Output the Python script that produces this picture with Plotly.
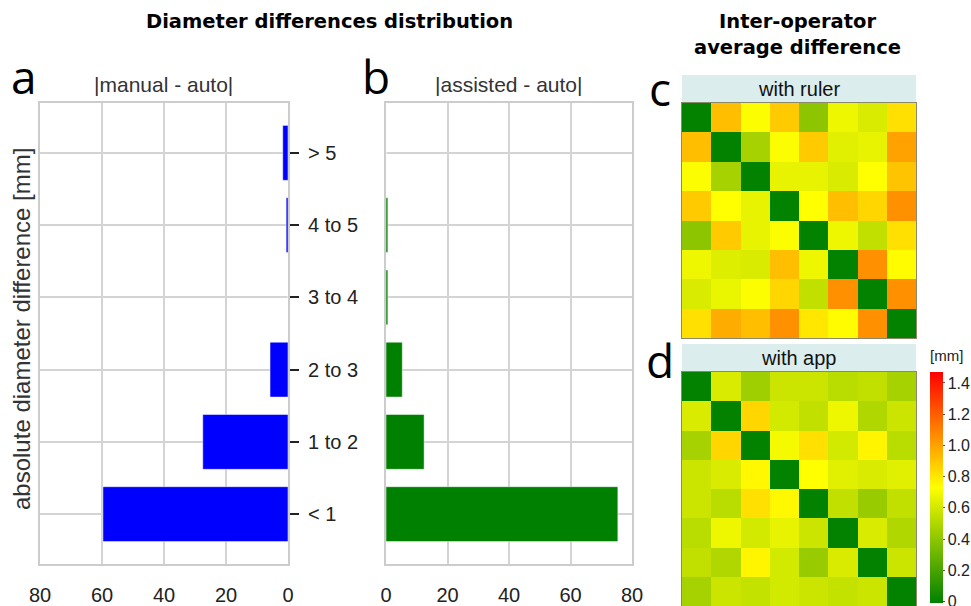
import plotly.graph_objects as go

W, H = 971, 606
OFF = 0  # body margin removed via post_script

categories = ["< 1", "1 to 2", "2 to 3", "3 to 4", "4 to 5", "> 5"]
manual_auto = [59.7, 27.5, 5.8, 0.0, 0.6, 1.7]
assisted_auto = [75.4, 12.4, 5.3, 0.6, 0.6, 0.0]
x_ticks = [0, 20, 40, 60, 80]

operators = list(range(1, 9))
with_ruler = [
    [0.00, 0.92, 0.72, 0.88, 0.40, 0.68, 0.62, 0.82],
    [0.92, 0.00, 0.47, 0.72, 0.88, 0.64, 0.66, 1.00],
    [0.72, 0.47, 0.00, 0.66, 0.66, 0.62, 0.73, 0.90],
    [0.88, 0.73, 0.66, 0.00, 0.73, 0.92, 0.85, 1.05],
    [0.40, 0.88, 0.66, 0.72, 0.00, 0.68, 0.55, 0.82],
    [0.68, 0.63, 0.62, 0.92, 0.68, 0.00, 1.05, 0.74],
    [0.62, 0.67, 0.72, 0.85, 0.55, 1.05, 0.00, 1.05],
    [0.82, 0.97, 0.92, 1.05, 0.80, 0.74, 1.05, 0.00],
]
with_app = [
    [0.00, 0.62, 0.45, 0.58, 0.58, 0.53, 0.55, 0.47],
    [0.62, 0.00, 0.85, 0.60, 0.55, 0.68, 0.50, 0.58],
    [0.47, 0.85, 0.00, 0.70, 0.82, 0.60, 0.76, 0.53],
    [0.58, 0.62, 0.75, 0.00, 0.73, 0.64, 0.62, 0.64],
    [0.58, 0.53, 0.82, 0.75, 0.00, 0.55, 0.43, 0.55],
    [0.53, 0.68, 0.60, 0.66, 0.58, 0.00, 0.62, 0.50],
    [0.55, 0.50, 0.76, 0.60, 0.43, 0.62, 0.00, 0.58],
    [0.47, 0.58, 0.56, 0.60, 0.58, 0.56, 0.58, 0.00],
]
cb_ticks = [0, 0.2, 0.4, 0.6, 0.8, 1.0, 1.2, 1.4]
cb_labels = ["0", "0.2", "0.4", "0.6", "0.8", "1.0", "1.2", "1.4"]


def px(x):
    return (x - OFF) / W


def py(y):
    return min(1.0, max(0.0, 1 - (y - OFF) / H))


colorscale = [[0, "#008000"], [0.5, "#ffff00"], [1, "#ff0000"]]
ZMIN, ZMAX = -0.01, 1.47

fig = go.Figure()
fig.add_trace(go.Bar(y=categories, x=manual_auto, orientation="h",
                     marker=dict(color="#0000ff", line=dict(color="white", width=0.5)),
                     width=0.76, xaxis="x", yaxis="y", showlegend=False))
fig.add_trace(go.Bar(y=categories, x=assisted_auto, orientation="h",
                     marker=dict(color="#008000", line=dict(color="white", width=0.5)),
                     width=0.76, xaxis="x2", yaxis="y2", showlegend=False))
fig.add_trace(go.Heatmap(z=with_ruler, x=operators, y=operators, colorscale=colorscale,
                         zmin=ZMIN, zmax=ZMAX, showscale=False, xaxis="x3", yaxis="y3"))
fig.add_trace(go.Heatmap(z=with_app, x=operators, y=operators, colorscale=colorscale,
                         zmin=ZMIN, zmax=ZMAX, xaxis="x4", yaxis="y4",
                         colorbar=dict(x=px(930), xanchor="left", y=py(603), yanchor="bottom",
                                       len=231, lenmode="pixels", thickness=13,
                                       thicknessmode="pixels", outlinewidth=0,
                                       tickvals=cb_ticks, ticktext=cb_labels,
                                       ticks="outside", ticklen=2, tickcolor="#555",
                                       ticklabeloverflow="allow",
                                       tickfont=dict(family="Liberation Sans", size=16, color="#222"),
                                       xpad=0, ypad=0)))

grid = "#d4d4d4"
font_tick = dict(family="Liberation Sans", size=20, color="#222")
ydom = [py(564), py(103)]
common_x = dict(showgrid=True, gridcolor=grid, gridwidth=2, tickvals=x_ticks,
                showline=True, linecolor="#cccccc", linewidth=2, mirror=True,
                zeroline=False, tickfont=font_tick, ticks="", ticklabelstandoff=12,
                automargin=False)
common_y = dict(showgrid=True, gridcolor=grid, gridwidth=2, range=[-0.69, 5.69],
                showline=True, linecolor="#cccccc", linewidth=2, mirror=True,
                zeroline=False, type="category", automargin=False)
hm_ax = dict(showticklabels=False, showgrid=False, zeroline=False, showline=True,
             linecolor="#8a8a6a", linewidth=1, mirror=True, automargin=False)

fig.update_layout(
    width=W, height=H, margin=dict(l=0, r=0, t=0, b=0, pad=0, autoexpand=False),
    paper_bgcolor="white", plot_bgcolor="white", bargap=0.24,
    xaxis=dict(domain=[px(40), px(288)], range=[80, 0], anchor="y", **common_x),
    yaxis=dict(domain=ydom, anchor="x", side="right", ticks="outside", ticklen=9,
               tickwidth=2, tickcolor="#222", tickfont=dict(family="Liberation Sans", size=20, color="#222"),
               ticklabelstandoff=5, **common_y),
    xaxis2=dict(domain=[px(386), px(632)], range=[0, 80], anchor="y2", **common_x),
    yaxis2=dict(domain=ydom, anchor="x2", showticklabels=False, ticks="", **common_y),
    xaxis3=dict(domain=[px(682), px(916)], anchor="y3", range=[0.5, 8.5], **hm_ax),
    yaxis3=dict(domain=[py(338), py(103)], anchor="x3", range=[8.5, 0.5], **hm_ax),
    xaxis4=dict(domain=[px(682), px(916)], anchor="y4", range=[0.5, 8.5], **hm_ax),
    yaxis4=dict(domain=[py(606), py(372)], anchor="x4", range=[8.5, 0.5], **hm_ax),
)

shapes = []
for top, bot in [(75, 103), (344, 372)]:
    shapes.append(dict(type="rect", xref="paper", yref="paper", x0=px(682), x1=px(916),
                       y0=py(bot), y1=py(top), fillcolor="#dcedee", line=dict(width=0), layer="below"))
fig.update_layout(shapes=shapes)

bold = dict(family="DejaVu Sans", size=19.5, color="black")
ann = [
    dict(text="<b>Diameter differences distribution</b>", x=px(329), y=py(22), font=bold),
    dict(text="<b>Inter-operator</b>", x=px(797), y=py(22), font=bold),
    dict(text="<b>average difference</b>", x=px(797), y=py(48), font=bold),
    dict(text="|manual - auto|", x=px(163), y=py(84), font=dict(family="Liberation Sans", size=21, color="#333")),
    dict(text="|assisted - auto|", x=px(509), y=py(84), font=dict(family="Liberation Sans", size=21, color="#333")),
    dict(text="with ruler", x=px(799), y=py(89), font=dict(family="Liberation Sans", size=20, color="#111")),
    dict(text="with app", x=px(799), y=py(358), font=dict(family="Liberation Sans", size=20, color="#111")),
    dict(text="[mm]", x=px(946), y=py(355), font=dict(family="Liberation Sans", size=15, color="#222")),
    dict(text="absolute diameter difference [mm]", x=px(21), y=py(329), textangle=-90,
         font=dict(family="Liberation Sans", size=24, color="#333")),
    dict(text="a", x=px(24), y=py(76), font=dict(family="Open Sans", size=46, color="black")),
    dict(text="b", x=px(376), y=py(76), font=dict(family="Open Sans", size=46, color="black")),
    dict(text="c", x=px(660), y=py(88), font=dict(family="Open Sans", size=46, color="black")),
    dict(text="d", x=px(660), y=py(360), font=dict(family="Open Sans", size=46, color="black")),
]
for a in ann:
    a.update(xref="paper", yref="paper", showarrow=False, xanchor="center", yanchor="middle")
fig.update_layout(annotations=ann)

fig.write_html("out.html", config={"displayModeBar": False},
               post_script="document.body.style.margin='0';document.body.style.overflow='hidden';")
